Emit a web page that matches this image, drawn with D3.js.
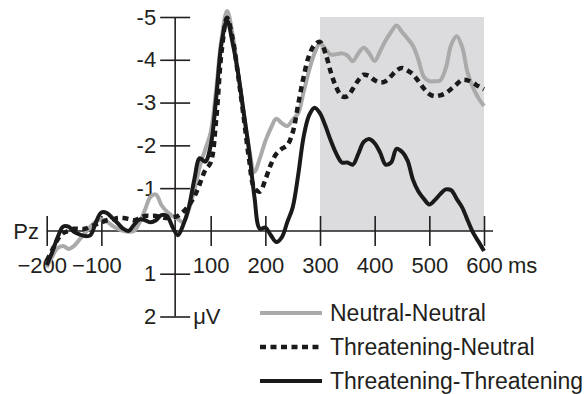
<!DOCTYPE html>
<html>
<head>
<meta charset="utf-8">
<script src="https://cdn.jsdelivr.net/npm/d3@7"></script>
<style>
  body { margin: 0; background: #fff; }
  text { font-family: "Liberation Sans", Arial, sans-serif; fill: #231f20; }
</style>
</head>
<body>
<div id="erp"></div>
<script>
// sample times (ms)
const times = [-200,-190,-180,-170,-160,-150,-140,-130,-120,-110,-100,-90,-80,-70,-60,-50,-40,-30,-20,-10,
  0,10,20,30,40,50,60,70,80,90,100,110,120,130,140,150,160,170,180,190,
  200,210,220,230,240,250,260,270,280,290,300,310,320,330,340,350,360,370,380,390,
  400,410,420,430,440,450,460,470,480,490,500,510,520,530,540,550,560,570,580,590,600];

// amplitudes (µV), negative is up
const neutralNeutral = [0.85,0.6,0.4,0.35,0.42,0.35,0.2,0.05,-0.1,-0.22,-0.27,-0.22,-0.12,-0.05,0.0,0.02,0.0,-0.2,-0.5,-0.8,
  -0.85,-0.6,-0.45,-0.35,-0.28,-0.2,-0.5,-0.95,-1.5,-1.9,-2.3,-3.3,-4.5,-5.14,-4.6,-3.7,-2.8,-1.95,-1.38,-1.7,
  -2.1,-2.4,-2.62,-2.52,-2.45,-2.6,-2.75,-3.25,-3.75,-4.15,-4.38,-4.25,-4.12,-4.13,-4.15,-4.1,-3.97,-4.15,-4.28,-4.15,
  -3.97,-4.2,-4.45,-4.65,-4.8,-4.65,-4.5,-4.33,-4.0,-3.6,-3.5,-3.5,-3.52,-3.8,-4.35,-4.55,-4.3,-3.7,-3.35,-3.1,-2.92];

const threatNeutral = [0.7,0.45,0.2,0.05,0.0,-0.05,-0.05,-0.05,-0.1,-0.15,-0.2,-0.25,-0.27,-0.3,-0.3,-0.28,-0.25,-0.3,-0.35,-0.35,
  -0.35,-0.32,-0.3,-0.32,-0.35,-0.45,-0.6,-0.8,-1.1,-1.42,-1.6,-2.6,-4.2,-4.98,-4.5,-3.65,-2.7,-1.7,-1.0,-0.92,
  -1.2,-1.55,-1.8,-1.92,-2.0,-2.3,-2.95,-3.6,-4.1,-4.35,-4.42,-4.15,-3.7,-3.35,-3.15,-3.15,-3.32,-3.52,-3.65,-3.62,
  -3.52,-3.47,-3.5,-3.62,-3.75,-3.81,-3.75,-3.66,-3.5,-3.33,-3.2,-3.15,-3.17,-3.22,-3.32,-3.43,-3.53,-3.52,-3.46,-3.38,-3.31];

const threatThreat = [0.8,0.5,0.15,-0.1,-0.1,0.02,0.08,0.12,0.1,-0.2,-0.43,-0.42,-0.3,-0.18,-0.05,0.0,-0.15,-0.27,-0.25,-0.2,
  -0.25,-0.37,-0.35,-0.1,0.1,-0.15,-0.55,-1.2,-1.7,-1.62,-2.0,-3.1,-4.4,-4.92,-4.4,-3.7,-2.8,-1.9,-0.8,-0.05,
  -0.08,0.1,0.26,0.15,-0.2,-0.55,-1.3,-2.2,-2.7,-2.88,-2.75,-2.45,-2.1,-1.8,-1.6,-1.6,-1.55,-1.8,-2.08,-2.15,
  -2.05,-1.83,-1.55,-1.6,-1.92,-1.85,-1.65,-1.2,-0.92,-0.75,-0.62,-0.72,-0.86,-0.97,-0.95,-0.75,-0.55,-0.25,0.04,0.25,0.47];

const xTicks = [-200, -100, 100, 200, 300, 400, 500, 600];
const yTicks = [-5, -4, -3, -2, -1, 1, 2];
const windowStart = 300, windowEnd = 600;
const yAxisAt = 35; // ms, where the µV axis crosses

const seriesNames = ["Neutral-Neutral", "Threatening-Neutral", "Threatening-Threatening"];
const seriesValues = [neutralNeutral, threatNeutral, threatThreat];
const seriesStyle = [
  { color: "#aaaaaa", width: 4, dash: null },
  { color: "#1a1a1a", width: 4.5, dash: "6,4.5" },
  { color: "#1a1a1a", width: 4, dash: null }
];

const width = 587, height = 394;

const svg = d3.select("#erp")
  .append("svg")
  .attr("width", width)
  .attr("height", height);

const x = d3.scaleLinear().domain([-200, 600]).range([46.7, 484]);
const y = d3.scaleLinear().domain([-5, 2]).range([17, 316.5]);
const axisColor = "#231f20";

// analysis window
svg.append("rect")
  .attr("x", x(windowStart))
  .attr("y", y(-5))
  .attr("width", x(windowEnd) - x(windowStart))
  .attr("height", y(0) - y(-5))
  .style("fill", "#dcdcdf");

// x axis
const xAxis = svg.append("g")
  .attr("transform", `translate(0, ${y(0)})`)
  .call(d3.axisBottom(x).tickValues(xTicks).tickSize(15).tickSizeOuter(0)
    .tickFormat(d => d < 0 ? "\u2212" + Math.abs(d) : d));
xAxis.select(".domain")
  .attr("d", `M${x(-200)},0H${x(600) + 9}`)
  .attr("stroke", axisColor)
  .attr("stroke-width", 1.6);
xAxis.selectAll(".tick line")
  .attr("y1", -15).attr("y2", 15)
  .attr("stroke", axisColor).attr("stroke-width", 1.6);
xAxis.selectAll(".tick text")
  .attr("y", 26)
  .attr("dx", d => d < 0 ? -5 : 0)
  .style("font-size", "22px")
  .style("fill", axisColor);

svg.append("text")
  .attr("x", x(600) + 24)
  .attr("y", y(0) + 26)
  .attr("dy", "0.71em")
  .style("font-size", "22px")
  .text("ms");

svg.append("text")
  .attr("x", 39)
  .attr("y", y(0))
  .attr("dy", "0.35em")
  .attr("text-anchor", "end")
  .style("font-size", "22px")
  .text("Pz");

// y axis
const yAxis = svg.append("g")
  .attr("transform", `translate(${x(yAxisAt)}, 0)`)
  .call(d3.axisLeft(y).tickValues(yTicks).tickSize(15).tickSizeOuter(0)
    .tickFormat(d => d < 0 ? "-" + Math.abs(d) : d));
yAxis.select(".domain")
  .attr("d", `M0,${y(-5)}V${y(2)}`)
  .attr("stroke", axisColor)
  .attr("stroke-width", 1.6);
yAxis.selectAll(".tick line")
  .attr("x1", -15).attr("x2", 15)
  .attr("stroke", axisColor).attr("stroke-width", 1.6);
yAxis.selectAll(".tick text")
  .attr("x", -19)
  .style("font-size", "22px")
  .style("fill", axisColor);

svg.append("text")
  .attr("x", x(yAxisAt) + 18)
  .attr("y", y(2))
  .attr("dy", "0.35em")
  .style("font-size", "22px")
  .text("\u03bcV");

// waveforms
const line = d3.line()
  .x((d, i) => x(times[i]))
  .y(d => y(d))
  .curve(d3.curveCatmullRom.alpha(0.5));

seriesValues.forEach((vals, k) => {
  svg.append("path")
    .datum(vals)
    .attr("d", line)
    .attr("fill", "none")
    .attr("stroke", seriesStyle[k].color)
    .attr("stroke-width", seriesStyle[k].width)
    .attr("stroke-dasharray", seriesStyle[k].dash)
    .attr("stroke-linejoin", "round");
});

// legend
const legendRows = [313, 347, 381];
seriesNames.forEach((name, k) => {
  svg.append("line")
    .attr("x1", 260).attr("x2", 322)
    .attr("y1", legendRows[k]).attr("y2", legendRows[k])
    .attr("stroke", seriesStyle[k].color)
    .attr("stroke-width", seriesStyle[k].width)
    .attr("stroke-dasharray", seriesStyle[k].dash);
  svg.append("text")
    .attr("x", 330)
    .attr("y", legendRows[k])
    .attr("dy", "0.35em")
    .style("font-size", "23px")
    .text(name);
});
</script>
</body>
</html>
